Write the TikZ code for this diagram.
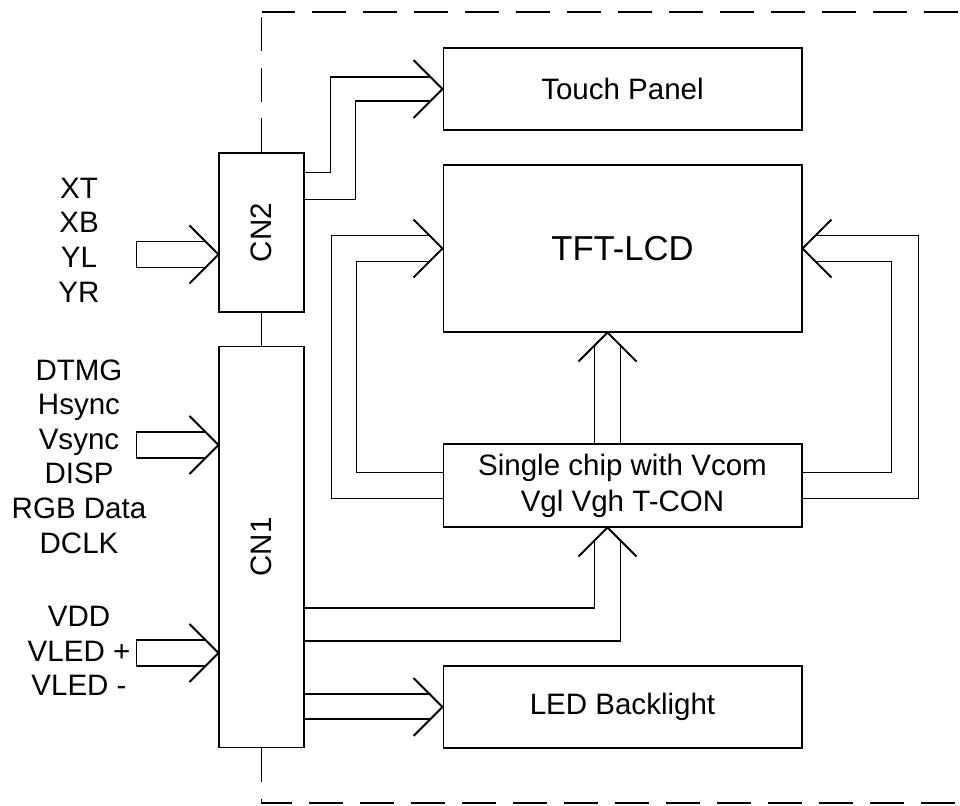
\documentclass[tikz,border=0pt]{standalone}
\usepackage{fontspec}
\setmainfont{Liberation Sans}
\usetikzlibrary{calc}

\begin{document}
\begin{tikzpicture}[x=0.02cm, y=-0.02cm, font=\fontsize{16.8}{20.4}\selectfont,
    box/.style={draw, line width=0.6pt, align=center, inner sep=0pt},
    blk/.style={box, minimum width=7.18cm, minimum height=1.64cm},
    conn/.style={box, minimum width=1.7cm},
    sig/.style={align=center, font=\fontsize{16.8}{19.7}\selectfont},
    pipe/.style={line width=1.1pt},
    frame/.style={line width=1.1pt, dash pattern=on 0.68cm off 0.34cm}]
  \useasboundingbox (0,0) rectangle (960,805);

  % connectors and blocks
  \node[conn, minimum height=3.18cm, label={[rotate=90]center:CN2}] (cn2) at (261.5,232.5) {};
  \node[conn, minimum height=8.04cm, label={[rotate=90]center:CN1}] (cn1) at (261.5,547) {};
  \node[blk] (touch) at (622.5,89) {Touch Panel};
  \node[blk, minimum height=3.34cm, font=\fontsize{19.7}{24}\selectfont] (tft) at (622.5,248.5) {TFT-LCD};
  \node[blk, minimum height=1.66cm] (chip) at (622.5,485.5) {Single chip with Vcom\\Vgl Vgh T-CON};
  \node[blk] (led) at (622.5,707) {LED Backlight};

  % input signals
  \node[sig] (tsig) at (79,240) {XT\\XB\\YL\\YR};
  \node[sig] (vsig) at (79,456.5) {DTMG\\Hsync\\Vsync\\DISP\\RGB Data\\DCLK};
  \node[sig] (psig) at (79,651) {VDD\\VLED +\\VLED -};

  \coordinate (tin) at ($(cn2.west)+(0,22)$);
  \coordinate (vin) at ($(cn1.west)+(0,-102)$);
  \coordinate (pin) at ($(cn1.west)+(0,106)$);
  \coordinate (up1) at ($(tft.south)+(-15,0)$);
  \coordinate (up2) at ($(chip.south)+(-15,0)$);

  % module outline
  \draw[frame] (cn2.north) -- (cn2.north |- 0,12);
  \draw[frame] (cn2.north |- 0,12) -- (960,12);
  \draw[pipe] (cn2.south) -- (cn1.north);
  \draw[frame] (cn1.south) -- (cn1.south |- 0,803) -- (960,803);

  % inputs into CN1/CN2
  \foreach \c in {tin,vin,pin}{
    \draw[pipe] ($(\c)+(-13,-13)$) -- ($(\c)+(-82,-13)$) -- ($(\c)+(-82,13)$) -- ($(\c)+(-13,13)$);
  }

  % arrow heads
  \foreach \c in {tin,vin,pin,touch.west,tft.west,led.west}{
    \draw[pipe] ($(\c)+(-29,-29)$) -- (\c) -- ($(\c)+(-29,29)$);
  }
  \draw[pipe] ($(tft.east)+(29,-29)$) -- (tft.east) -- ($(tft.east)+(29,29)$);
  \foreach \c in {up1,up2}{
    \draw[pipe] ($(\c)+(-29,29)$) -- (\c) -- ($(\c)+(29,29)$);
  }

  % CN2 -> touch panel
  \draw[pipe] ($(cn2.east)+(0,-60)$) -| ($(touch.west)+(-112,-12)$) -- ($(touch.west)+(-12,-12)$);
  \draw[pipe] ($(cn2.east)+(0,-33)$) -| ($(touch.west)+(-87,12)$) -- ($(touch.west)+(-12,12)$);

  % CN1 -> chip, CN1 -> backlight
  \draw[pipe] ($(cn1.east)+(0,61)$) -| ($(up2)+(-13,13)$);
  \draw[pipe] ($(cn1.east)+(0,94)$) -| ($(up2)+(13,13)$);
  \draw[pipe] ($(cn1.east)+(0,147)$) -- ($(led.west)+(-12,-13)$);
  \draw[pipe] ($(cn1.east)+(0,172)$) -- ($(led.west)+(-12,12)$);

  % chip -> TFT-LCD
  \draw[pipe] ($(chip.north)+(-28,0)$) -- ($(up1)+(-13,13)$);
  \draw[pipe] ($(chip.north)+(-2,0)$) -- ($(up1)+(13,13)$);
  \draw[pipe] ($(chip.west)+(0,-13)$) -| ($(tft.west)+(-86,13)$) -- ($(tft.west)+(-13,13)$);
  \draw[pipe] ($(chip.west)+(0,13)$) -| ($(tft.west)+(-111,-13)$) -- ($(tft.west)+(-13,-13)$);
  \draw[pipe] ($(chip.east)+(0,-13)$) -| ($(tft.east)+(89,13)$) -- ($(tft.east)+(13,13)$);
  \draw[pipe] ($(chip.east)+(0,13)$) -| ($(tft.east)+(116,-13)$) -- ($(tft.east)+(13,-13)$);
\end{tikzpicture}
\end{document}
